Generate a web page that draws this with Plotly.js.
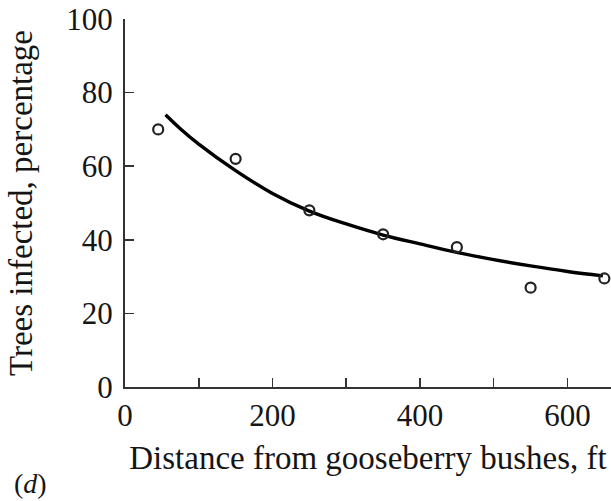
<!DOCTYPE html>
<html>
<head>
<meta charset="utf-8">
<script src="https://cdn.plot.ly/plotly-3.0.1.min.js"></script>
<style>
  html, body { margin: 0; padding: 0; background: #fff; }
  #chart { width: 611px; height: 501px; }
</style>
</head>
<body>
<div id="chart"></div>
<script>
// Observed infection rate at each distance from the bushes
const distanceFt = [45, 150, 250, 350, 450, 550, 650];
const infectedPct = [70, 62, 48, 41.5, 38, 27, 29.5];

// Fitted decline curve
const fitDistanceFt = [55, 75, 100, 150, 200, 250, 300, 350, 400, 450, 500, 550, 600, 648];
const fitInfectedPct = [74, 70.2, 66, 58.8, 52.6, 47.8, 44.3, 41.3, 38.9, 36.6, 34.6, 32.9, 31.4, 30.2];

// Axis ticks
const xTickVals = [0, 100, 200, 300, 400, 500, 600];
const xTickText = ['0', '', '200', '', '400', '', '600'];
const yTickVals = [0, 20, 40, 60, 80, 100];
const yTickText = ['0', '20', '40', '60', '80', '100'];

const serif = 'Liberation Serif, Times New Roman, serif';
const ink = '#151515';

const traces = [
  {
    x: fitDistanceFt,
    y: fitInfectedPct,
    type: 'scatter',
    mode: 'lines',
    line: { color: '#000', width: 3.4, shape: 'spline', smoothing: 1 },
    hoverinfo: 'skip'
  },
  {
    x: distanceFt,
    y: infectedPct,
    type: 'scatter',
    mode: 'markers',
    marker: {
      symbol: 'circle-open',
      size: 10,
      color: '#222',
      line: { width: 2.2, color: '#222' }
    },
    cliponaxis: false
  }
];

const layout = {
  width: 611,
  height: 501,
  margin: { l: 125, r: 0, t: 19, b: 114 },
  paper_bgcolor: '#fff',
  plot_bgcolor: '#fff',
  showlegend: false,
  font: { family: serif, color: ink },
  xaxis: {
    range: [0, 659],
    tickmode: 'array',
    tickvals: xTickVals,
    ticktext: xTickText,
    ticks: 'inside',
    ticklen: 9,
    tickwidth: 1.5,
    tickcolor: '#333',
    showline: true,
    linecolor: '#333',
    linewidth: 2,
    showgrid: false,
    zeroline: false,
    ticklabeloverflow: 'allow',
    tickfont: { family: serif, size: 31, color: ink },
    title: {
      text: 'Distance from gooseberry bushes, ft',
      font: { family: serif, size: 33, color: ink },
      standoff: 14
    }
  },
  yaxis: {
    range: [0, 100],
    tickmode: 'array',
    tickvals: yTickVals,
    ticktext: yTickText,
    ticks: 'inside',
    ticklen: 9,
    tickwidth: 1.5,
    tickcolor: '#333',
    showline: true,
    linecolor: '#333',
    linewidth: 2,
    showgrid: false,
    zeroline: false,
    ticklabeloverflow: 'allow',
    tickfont: { family: serif, size: 31, color: ink },
    ticklabelstandoff: 4,
    title: {
      text: 'Trees infected, percentage',
      font: { family: serif, size: 33, color: ink },
      standoff: 24
    }
  },
  annotations: [
    {
      text: '(<i>d</i>)',
      xref: 'paper', yref: 'paper',
      x: -0.232, y: -0.262,
      xanchor: 'left', yanchor: 'middle',
      showarrow: false,
      font: { family: serif, size: 28, color: ink }
    }
  ]
};

Plotly.newPlot('chart', traces, layout, { displayModeBar: false, staticPlot: true });
</script>
</body>
</html>
